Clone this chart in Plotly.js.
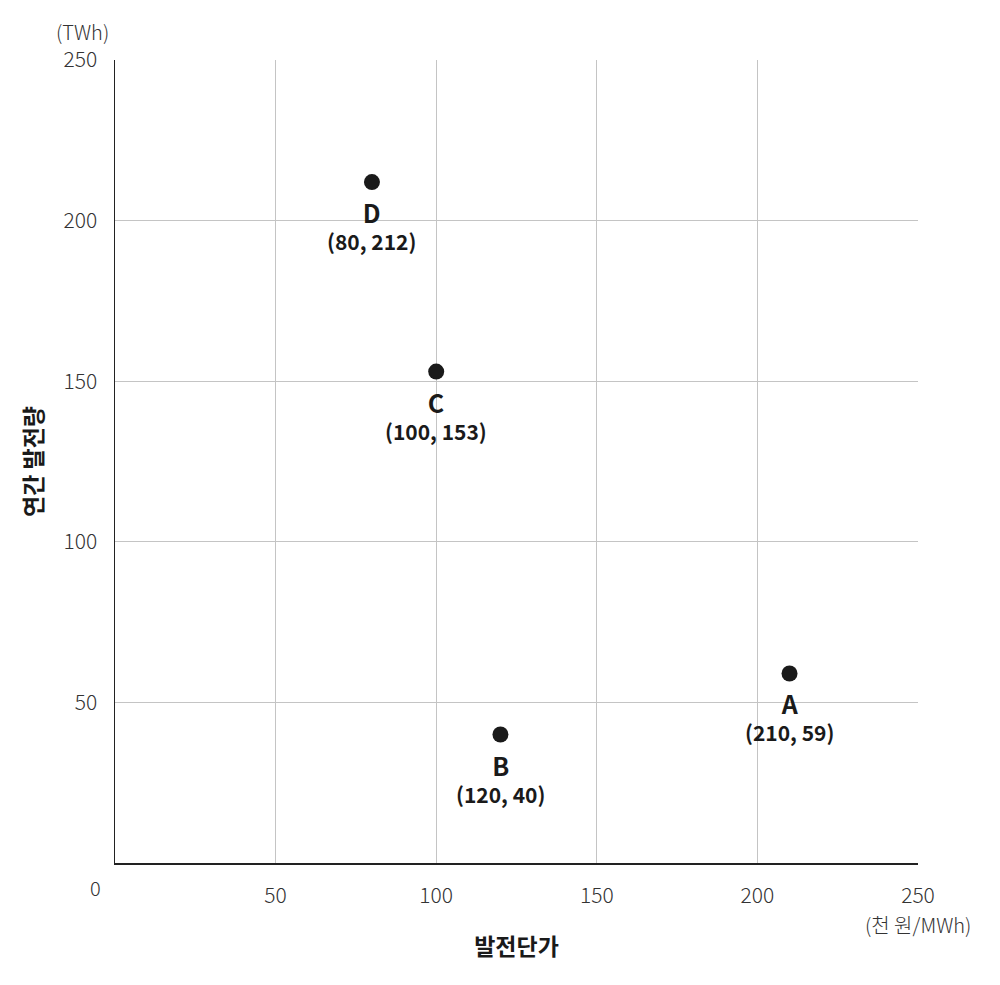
<!DOCTYPE html>
<html><head><meta charset="utf-8">
<script src="https://cdn.plot.ly/plotly-3.0.1.min.js"></script>
<style>body{margin:0;background:#fff}#c{width:1000px;height:985px}</style>
</head><body><div id="c"></div>
<script>
const names = ["A","B","C","D"];
const costs = [210,120,100,80];
const outputs = [59,40,153,212];
const tickVals = [50,100,150,200,250];

const F = '"Noto Sans CJK KR", "Noto Sans", sans-serif';
const ann = [];
names.forEach((n,i)=>{
  ann.push({x:costs[i],y:outputs[i],xref:'x',yref:'y',
    text:'<span style="font-size:25px"><b>'+n+'</b></span><br><b>('+costs[i]+', '+outputs[i]+')</b>',
    showarrow:false,xanchor:'center',yanchor:'middle',yshift:-43,borderpad:0,
    font:{family:F,size:21,color:'#1a1a1a'}});
});
const P = (t,x,y)=>({xref:'paper',yref:'paper',x:x,y:y,text:t,showarrow:false,xanchor:'center',yanchor:'middle',font:{family:F,size:20,color:'#333',weight:300}});
ann.push(P('0',-0.0249,-0.0311));
ann.push(P('(TWh)',-0.041,1.0349));
ann.push(P('(천 원/MWh)',1.0,-0.0772));

Plotly.newPlot('c',[{
  type:'scatter',mode:'markers',x:costs,y:outputs,
  marker:{size:16,color:'#1a1a1a'},hoverinfo:'skip'
}],{
  width:1000,height:985,
  margin:{l:115,r:82,t:60,b:122},
  paper_bgcolor:'#fff',plot_bgcolor:'#fff',
  showlegend:false,
  xaxis:{range:[0,250],tickvals:tickVals,showgrid:true,gridcolor:'#c4c4c4',gridwidth:1,
    showline:true,linecolor:'#222',linewidth:1.5,zeroline:false,ticks:'',ticklabelstandoff:13,
    tickfont:{family:F,size:21,color:'#333',weight:300},
    title:{text:'<b>발전단가</b>',font:{family:F,size:23,color:'#1a1a1a'},standoff:31}},
  yaxis:{range:[0,250],tickvals:tickVals,showgrid:true,gridcolor:'#c4c4c4',gridwidth:1,
    showline:true,linecolor:'#222',linewidth:1.5,zeroline:false,ticks:'',ticklabelstandoff:12,
    tickfont:{family:F,size:21,color:'#333',weight:300},
    title:{text:'<b>연간 발전량</b>',font:{family:F,size:23,color:'#1a1a1a'},standoff:14}},
  annotations:ann
},{displayModeBar:false,staticPlot:true});
</script></body></html>
